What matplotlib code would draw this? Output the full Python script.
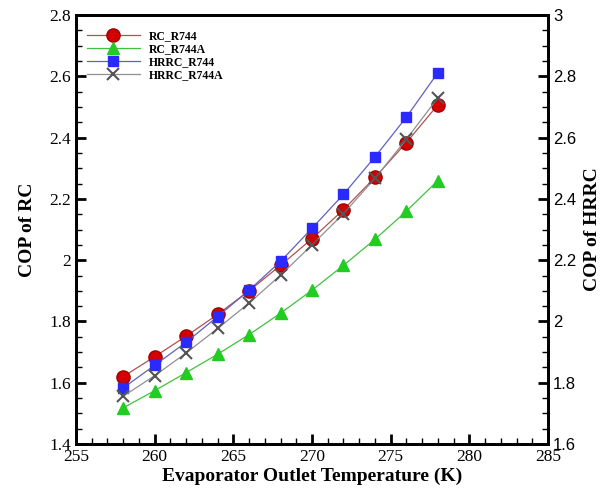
import matplotlib
matplotlib.use("Agg")
import matplotlib.pyplot as plt
from matplotlib.ticker import MultipleLocator

temps = [258, 260, 262, 264, 266, 268, 270, 272, 274, 276, 278]
rc_r744 = [1.62, 1.685, 1.752, 1.823, 1.900, 1.983, 2.070, 2.165, 2.270, 2.384, 2.507]
rc_r744a = [1.518, 1.574, 1.633, 1.693, 1.757, 1.827, 1.902, 1.983, 2.068, 2.160, 2.260]
hrrc_r744 = [1.783, 1.857, 1.932, 2.016, 2.102, 2.196, 2.304, 2.415, 2.537, 2.667, 2.812]
hrrc_r744a = [1.756, 1.823, 1.897, 1.977, 2.060, 2.151, 2.250, 2.352, 2.467, 2.595, 2.730]
x_ticks = [255, 260, 265, 270, 275, 280, 285]
left_ticks = [1.4, 1.6, 1.8, 2.0, 2.2, 2.4, 2.6, 2.8]
right_ticks = [1.6, 1.8, 2.0, 2.2, 2.4, 2.6, 2.8, 3.0]

serif = "Liberation Serif"
sans = "Liberation Sans"

fig = plt.figure(figsize=(6.16, 4.88), dpi=100)
ax = fig.add_axes([0.1234, 0.0902, 0.7662, 0.8788])
ax2 = ax.twinx()

l1, = ax.plot(temps, rc_r744, color="#b05050", lw=0.9, marker="o", ms=9.5,
              mfc="#d40000", mec="#a00000", label="RC_R744")
l2, = ax.plot(temps, rc_r744a, color="#40c040", lw=0.9, marker="^", ms=8,
              mfc="#22cc22", mec="#22cc22", label="RC_R744A")
l3, = ax2.plot(temps, hrrc_r744, color="#6060c0", lw=0.9, marker="s", ms=7,
               mfc="#2a2aff", mec="#2a2aff", label="HRRC_R744")
l4, = ax2.plot(temps, hrrc_r744a, color="#909090", lw=0.9, marker="x", ms=8,
               mew=1.5, mec="#555555", label="HRRC_R744A")

ax.set_xlim(255, 285)
ax.set_ylim(1.4, 2.8)
ax2.set_ylim(1.6, 3.0)

ax.xaxis.set_minor_locator(MultipleLocator(1))
ax.yaxis.set_minor_locator(MultipleLocator(0.05))
ax2.yaxis.set_minor_locator(MultipleLocator(0.05))

for a in (ax, ax2):
    for s in a.spines.values():
        s.set_linewidth(2)
ax.tick_params(axis="both", which="major", direction="in", length=7, width=2,
               labelsize=12.5, top=False, right=False)
ax.tick_params(axis="both", which="minor", direction="in", length=4, width=1,
               top=False, right=False)
ax2.tick_params(axis="y", which="major", direction="in", length=7, width=2,
                labelsize=12)
ax2.tick_params(axis="y", which="minor", direction="in", length=4, width=1)

def fmt(v):
    s = f"{v:.1f}"
    return s[:-2] if s.endswith(".0") else s

ax.set_xticks(x_ticks)
ax.set_xticklabels([str(t) for t in x_ticks], fontfamily=serif)
ax.set_yticks(left_ticks)
ax.set_yticklabels([fmt(v) for v in left_ticks], fontfamily=serif)
ax2.set_yticks(right_ticks)
ax2.set_yticklabels([fmt(v) for v in right_ticks], fontfamily=sans)

ax.set_xlabel("Evaporator Outlet Temperature (K)", fontfamily=serif,
              fontweight="bold", fontsize=14, labelpad=2)
ax.set_ylabel("COP of RC", fontfamily=serif, fontweight="bold", fontsize=14, labelpad=10)
ax2.set_ylabel("COP of HRRC", fontfamily=serif, fontweight="bold", fontsize=14, labelpad=6)

handles = [l1, l2, l3, l4]
ax.legend(handles, [h.get_label() for h in handles], loc="upper left",
          bbox_to_anchor=(0.0, 0.99), frameon=False,
          prop={"family": serif, "weight": "bold", "size": 8.5},
          handlelength=4.5, labelspacing=0.1, handletextpad=0.8)

fig.savefig("out.png", dpi=100)
